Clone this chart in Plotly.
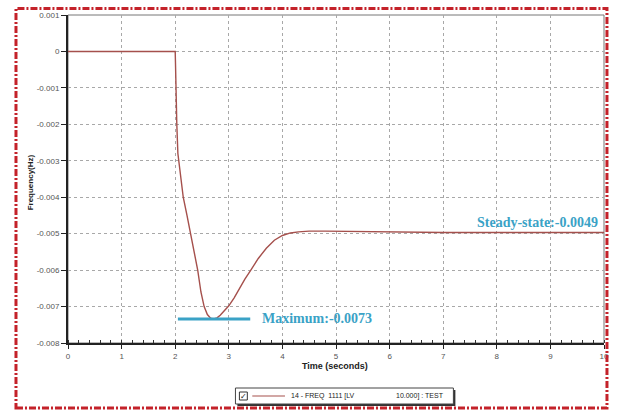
import math
import plotly.graph_objects as go

# Frequency deviation response (seconds, Hz)
time_s = [0.0, 1.0, 2.0, 2.005, 2.015, 2.03, 2.05, 2.08, 2.15, 2.22, 2.29, 2.36, 2.42,
          2.48, 2.54, 2.60, 2.66, 2.72, 2.78, 2.84, 2.90, 3.00, 3.10, 3.20, 3.30, 3.42,
          3.55, 3.70, 3.85, 4.00, 4.15, 4.30, 4.50, 4.80, 5.20, 5.60, 6.00, 7.00, 8.00,
          9.00, 10.0]
freq_hz = [0.0, 0.0, 0.0, -0.0003, -0.0012, -0.0020, -0.0028, -0.0032, -0.0040, -0.0045,
           -0.0050, -0.0055, -0.0060, -0.00660, -0.00700, -0.00722, -0.00732, -0.00734,
           -0.00731, -0.00724, -0.00715, -0.00698, -0.00676, -0.00650, -0.00625, -0.00598,
           -0.00568, -0.00540, -0.00518, -0.00505, -0.00498, -0.00495, -0.00493, -0.00493,
           -0.00494, -0.00495, -0.00496, -0.00497, -0.00497, -0.00497, -0.00497]

x_ticks = [0, 1, 2, 3, 4, 5, 6, 7, 8, 9, 10]
y_ticks = [0.001, 0.0, -0.001, -0.002, -0.003, -0.004, -0.005, -0.006, -0.007, -0.008]
y_tick_text = ["0.001", "0", "-0.001", "-0.002", "-0.003", "-0.004", "-0.005",
               "-0.006", "-0.007", "-0.008"]

legend_label_left = "14 - FREQ  1111 [LV"
legend_label_right = "10.000] : TEST"

W, H = 618, 411
ML, MR, MT, MB = 68, 9, 15, 68
PW, PH = W - ML - MR, H - MT - MB


def px(x):
    return (x - ML) / PW


def py(y):
    return (H - MB - y) / PH


def trunc4(v):
    return math.trunc(v * 1e4) / 1e4


min_val = min(freq_hz)
min_t = time_s[freq_hz.index(min_val)]
steady_val = freq_hz[-1]

curve_color = "#a5504c"
note_color = "#3aa2c6"

fig = go.Figure()
fig.add_trace(go.Scatter(x=time_s, y=freq_hz, mode="lines", showlegend=False,
                         line=dict(color=curve_color, width=1.4)))

# Minimum marker bar
fig.add_trace(go.Scatter(x=[min_t - 0.67, min_t + 0.68], y=[min_val, min_val],
                         mode="lines", showlegend=False,
                         line=dict(color=note_color, width=3)))

tick_font = dict(family="Liberation Sans, Arial", size=8, color="#555555")

fig.update_xaxes(range=[0, 10], tickvals=x_ticks, ticktext=[str(t) for t in x_ticks],
                 showline=True, linecolor="#222222", linewidth=2,
                 ticks="outside", ticklen=4, tickcolor="#222222", tickwidth=1,
                 tickfont=tick_font,
                 showgrid=True, gridcolor="#a8a8a8", gridwidth=1, griddash="dot",
                 minor=dict(ticks="inside", dtick=0.2, ticklen=3, tickcolor="#333333",
                            showgrid=False),
                 zeroline=False)
fig.update_yaxes(range=[-0.008, 0.001], tickvals=y_ticks, ticktext=y_tick_text,
                 showline=True, linecolor="#222222", linewidth=2,
                 ticks="outside", ticklen=5, tickcolor="#222222", tickwidth=1,
                 tickfont=tick_font,
                 showgrid=True, gridcolor="#a8a8a8", gridwidth=1, griddash="dot",
                 zeroline=False)

shapes = [
    # plot frame (top / right)
    dict(type="rect", xref="paper", yref="paper", x0=0, y0=0, x1=1, y1=1,
         line=dict(color="#777777", width=1), layer="below"),
    # outer dash-dot border
    dict(type="rect", xref="paper", yref="paper", x0=px(15.5), x1=px(612),
         y0=py(408), y1=py(8.5),
         line=dict(color="#c4222a", width=3, dash="7px,2px,2px,2px")),
    # legend box shadow and box
    dict(type="rect", xref="paper", yref="paper", x0=px(239), x1=px(459),
         y0=py(406), y1=py(390), fillcolor="#333333", line=dict(width=0)),
    dict(type="rect", xref="paper", yref="paper", x0=px(237), x1=px(457),
         y0=py(404), y1=py(388), fillcolor="white",
         line=dict(color="#444444", width=1)),
    # checkbox
    dict(type="rect", xref="paper", yref="paper", x0=px(241), x1=px(249),
         y0=py(400), y1=py(392), fillcolor="white",
         line=dict(color="#333333", width=1)),
    # legend line sample
    dict(type="line", xref="paper", yref="paper", x0=px(254), x1=px(287),
         y0=py(396), y1=py(396), line=dict(color=curve_color, width=1.2)),
]

annotations = [
    dict(text="<b>Frequency(Hz)</b>", xref="paper", yref="paper", x=px(30), y=py(182),
         textangle=-90, showarrow=False, xanchor="center", yanchor="middle",
         font=dict(family="Liberation Sans, Arial", size=8, color="#222222")),
    dict(text="<b>Time (seconds)</b>", xref="paper", yref="paper", x=px(337), y=py(366),
         showarrow=False, xanchor="center", yanchor="middle",
         font=dict(family="Liberation Sans, Arial", size=9, color="#222222")),
    dict(text="<b>Maximum:%.4f</b>" % trunc4(min_val), xref="x", yref="y",
         x=3.58, y=min_val, showarrow=False, xanchor="left", yanchor="middle",
         font=dict(family="Liberation Serif, Times New Roman", size=14, color=note_color)),
    dict(text="<b>Steady-state:%.4f</b>" % trunc4(steady_val), xref="x", yref="y",
         x=9.93, y=-0.0047, showarrow=False, xanchor="right", yanchor="middle",
         font=dict(family="Liberation Serif, Times New Roman", size=14, color=note_color)),
    dict(text="✓", xref="paper", yref="paper", x=px(245), y=py(396), showarrow=False,
         xanchor="center", yanchor="middle",
         font=dict(family="DejaVu Sans", size=8, color="#222222")),
    dict(text=legend_label_left, xref="paper", yref="paper", x=px(291), y=py(396),
         showarrow=False, xanchor="left", yanchor="middle",
         font=dict(family="Liberation Sans, Arial", size=7, color="#222222")),
    dict(text=legend_label_right, xref="paper", yref="paper", x=px(397), y=py(396),
         showarrow=False, xanchor="left", yanchor="middle",
         font=dict(family="Liberation Sans, Arial", size=7, color="#222222")),
]

fig.update_layout(width=W, height=H, autosize=False,
                  margin=dict(l=ML, r=MR, t=MT, b=MB, pad=0),
                  paper_bgcolor="white", plot_bgcolor="white",
                  shapes=shapes, annotations=annotations, showlegend=False)

fig.write_html("out.html")
